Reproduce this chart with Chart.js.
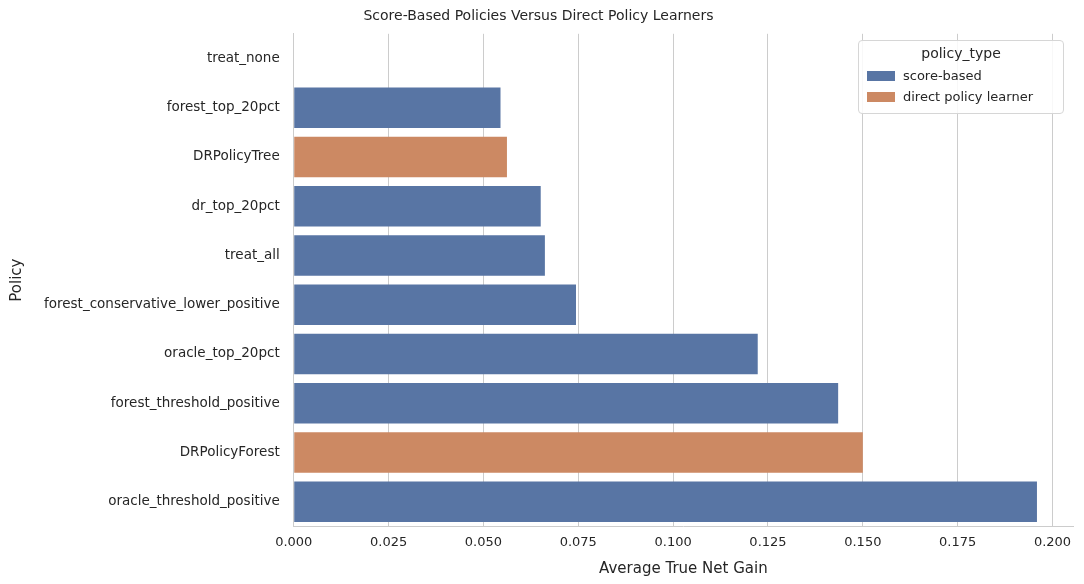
<!DOCTYPE html>
<html>
<head>
<meta charset="utf-8">
<script src="https://cdn.jsdelivr.net/npm/chart.js@4.4.0/dist/chart.umd.min.js"></script>
<style>
  html, body { margin: 0; padding: 0; background: #fff; }
  #wrap { position: relative; width: 1084px; height: 584px; font-family: "DejaVu Sans", sans-serif; }
  #legend { position: absolute; left: 858px; top: 40px; width: 206px; border: 1px solid #d6d6d6; border-radius: 4px;
            background: rgba(255,255,255,0.85); padding: 4px 8px 6px 8px; box-sizing: border-box; color: #262626; }
  #legend .t { text-align: center; font-size: 14px; margin-bottom: 4px; }
  #legend .r { font-size: 13px; display: flex; align-items: center; height: 21px; }
  #legend .s { width: 28px; height: 10px; margin-right: 8px; }
</style>
</head>
<body>
<div id="wrap">
  <canvas id="chart" width="1084" height="584"></canvas>
  <div id="legend">
    <div class="t">policy_type</div>
    <div class="r"><span class="s" style="background:#5875a4"></span>score-based</div>
    <div class="r"><span class="s" style="background:#cc8963"></span>direct policy learner</div>
  </div>
</div>
<script>
// Policies, ordered as in the plot
const policies = ['treat_none', 'forest_top_20pct', 'DRPolicyTree', 'dr_top_20pct', 'treat_all',
    'forest_conservative_lower_positive', 'oracle_top_20pct', 'forest_threshold_positive',
    'DRPolicyForest', 'oracle_threshold_positive'];
const scoreBased = [0, 0.0545, null, 0.0651, 0.0662, 0.0744, 0.1223, 0.1435, null, 0.1959];
const directLearner = [null, null, 0.0562, null, null, null, null, null, 0.1500, null];
const xTicks = [0, 0.025, 0.05, 0.075, 0.1, 0.125, 0.15, 0.175, 0.2];

new Chart(document.getElementById('chart'), {
    type: 'bar',
    data: {
        labels: policies,
        datasets: [
            { label: 'score-based', data: scoreBased, backgroundColor: '#5875a4' },
            { label: 'direct policy learner', data: directLearner, backgroundColor: '#cc8963' }
        ]
    },
    options: {
        indexAxis: 'y',
        responsive: false,
        animation: false,
        layout: { padding: { left: 4, right: 11, top: 0, bottom: 2 } },
        datasets: { bar: { barPercentage: 1, categoryPercentage: 0.82 } },
        plugins: {
            legend: { display: false },
            tooltip: { enabled: false },
            title: {
                display: true,
                text: 'Score-Based Policies Versus Direct Policy Learners',
                color: '#262626',
                font: { family: 'DejaVu Sans', size: 14, weight: 'normal' },
                padding: { top: 8, bottom: 9 }
            }
        },
        scales: {
            x: {
                min: 0, max: 0.2054,
                afterBuildTicks: axis => { axis.ticks = xTicks.map(v => ({ value: v })); },
                border: { color: '#cccccc' },
                grid: { color: '#cccccc', drawTicks: false },
                ticks: {
                    padding: 8, color: '#262626',
                    font: { family: 'DejaVu Sans', size: 13 },
                    callback: v => v.toFixed(3)
                },
                title: { display: true, text: 'Average True Net Gain', color: '#262626',
                    font: { family: 'DejaVu Sans', size: 15 }, padding: { top: 2 } }
            },
            y: {
                stacked: true,
                border: { color: '#cccccc' },
                grid: { display: false, drawTicks: false },
                ticks: { padding: 14, color: '#262626', font: { family: 'DejaVu Sans', size: 13.5 } },
                title: { display: true, text: 'Policy', color: '#262626',
                    font: { family: 'DejaVu Sans', size: 15 }, padding: { bottom: 4 } }
            }
        }
    }
});
</script>
</body>
</html>
